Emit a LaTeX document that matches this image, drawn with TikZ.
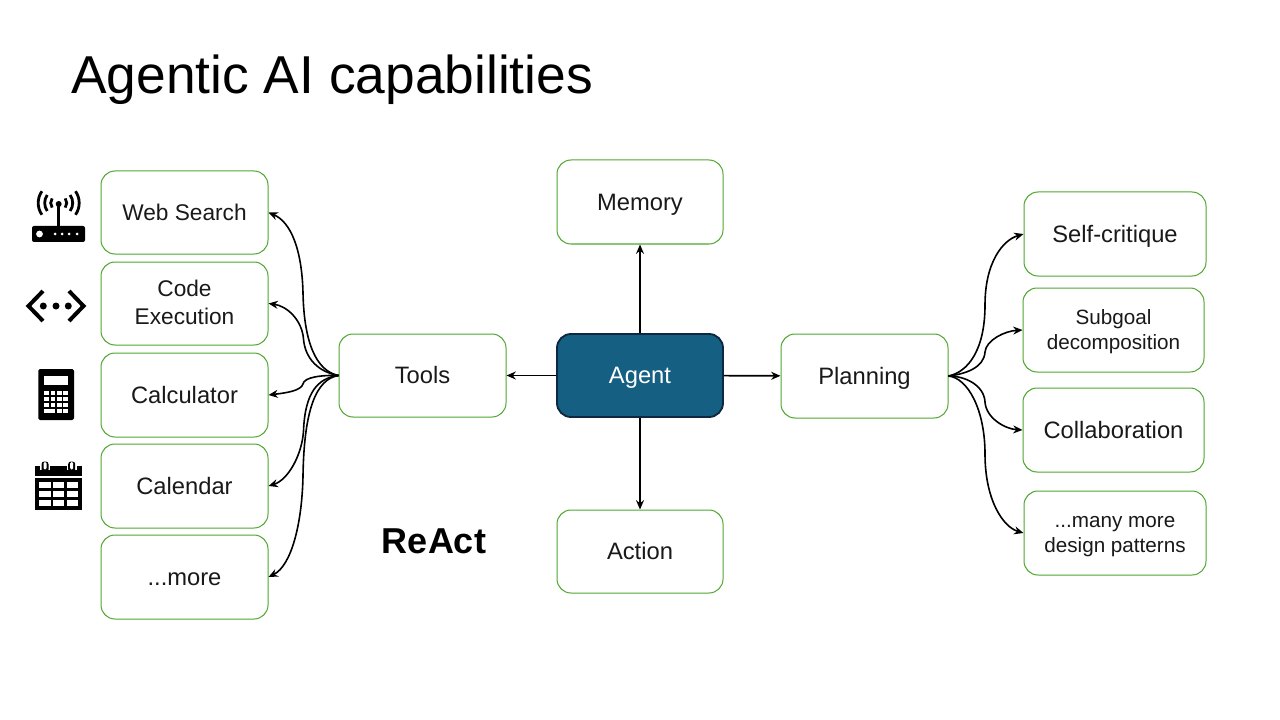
\documentclass[tikz,border=0pt]{standalone}
\usepackage{fontspec}
\setmainfont{Liberation Sans}
\usetikzlibrary{arrows.meta}
\definecolor{boxgreen}{HTML}{4EA72E}
\definecolor{agentfill}{HTML}{156082}
\definecolor{agentedge}{HTML}{0E2841}
\tikzset{
  box/.style={draw=boxgreen,line width=0.75pt,rounded corners=10.5pt,fill=white,inner sep=0pt,align=center,font=\fontsize{17.8}{22}\selectfont,text=black!90,text height=15.5pt,text depth=3pt},
  agentbox/.style={box,draw=agentedge,fill=agentfill,text=white,line width=1.4pt},
  twolines/.style={text height=35pt},
  smalltext/.style={font=\fontsize{15.5}{18.7}\selectfont,text height=31.5pt},
  narrowtext/.style={font=\fontsize{17}{21.6}\selectfont},
  conn/.style={draw=black,line width=1.2pt,-{Stealth[length=7pt,width=6pt]}},
  icon/.style={fill=black,draw=none},
  hole/.style={fill=white,draw=none}
}
\newcommand{\bx}[7][]{\node[box,#1,minimum width={(#4-#2)*0.75pt},minimum height={(#5-#3)*0.75pt}] (#6) at ({(#2+#4)/2},{(#3+#5)/2}) {#7};}
\begin{document}
\begin{tikzpicture}[x=0.75pt,y=-0.75pt]
\useasboundingbox (0,0) rectangle (1280,720);
\fill[white] (0,0) rectangle (1280,720);
\node[anchor=base west,inner sep=0pt,font=\fontsize{40}{48}\selectfont] (title) at (71,94) {Agentic AI capabilities};
\node[inner sep=0pt,font=\fontsize{27}{32}\selectfont\bfseries] (react) at (434,541) {ReAct};
% boxes
\bx[narrowtext]{101}{171}{268}{254}{web}{Web Search}
\bx[twolines,narrowtext]{101}{262}{268}{345}{code}{Code\\Execution}
\bx{101}{353}{268}{437}{calc}{Calculator}
\bx{101}{444}{268}{528}{cal}{Calendar}
\bx{101}{535}{268}{619}{more}{...more}
\bx{339}{334}{506}{417}{tools}{Tools}
\bx[agentbox]{557}{334}{723}{417}{agent}{Agent}
\bx{557}{160}{723}{244}{memory}{Memory}
\bx{557}{510}{723}{593}{action}{Action}
\bx{781}{334}{948}{418}{planning}{Planning}
\bx{1024}{192}{1206}{276}{self}{Self-critique}
\bx[smalltext]{1023}{288}{1204}{372}{sub}{Subgoal\\decomposition}
\bx{1023}{388}{1204}{472}{collab}{Collaboration}
\bx[smalltext]{1024}{491}{1206}{575}{many}{...many more\\design patterns}
% straight connectors
\draw[conn] (agent) -- (memory);
\draw[conn] (agent) -- (action);
\draw[conn] (agent) -- (tools);
\draw[conn] (agent) -- (planning);
% left fan
\draw[conn] (tools.west) .. controls (316,371) and (304,342) .. (303,293) .. controls (302,250) and (291,222) .. (web.east);
\draw[conn] (tools.west) .. controls (318,372) and (305,358) .. (303.5,339) .. controls (302,320) and (287,306) .. (code.east);
\draw[conn] (tools.west) .. controls (322,375) and (304,377) .. (303,384) .. controls (301,391) and (285,393) .. (calc.east);
\draw[conn] (tools.west) .. controls (318,378) and (305,392) .. (303.5,431) .. controls (302,455) and (288,480) .. (cal.east);
\draw[conn] (tools.west) .. controls (316,379) and (304,410) .. (303,476) .. controls (302,525) and (291,566) .. (more.east);
% right fan
\draw[conn] (planning.east) .. controls (968,372) and (985,350) .. (985,305) .. controls (985,262) and (1003,240) .. (self.west);
\draw[conn] (planning.east) .. controls (965,374) and (984,368) .. (985,352) .. controls (986,340) and (1005,331) .. (sub.west);
\draw[conn] (planning.east) .. controls (965,376) and (984,385) .. (985,402) .. controls (986,418) and (1005,429) .. (collab.west);
\draw[conn] (planning.east) .. controls (968,378) and (985,410) .. (985,454) .. controls (985,500) and (1003,527) .. (many.west);
% router icon
\fill[icon,rounded corners=1.5pt] (32,226) rectangle (85,242);
\fill[hole] (39.5,234) circle (3.4);
\foreach \x in {55,62,69,77}{\fill[hole] (\x,234) circle (1.5);}
\fill[icon] (57,204) rectangle (60.4,227);
\fill[icon] (58.7,204) circle (3);
\foreach \r in {8,14,20.5}{
  \draw[line width=2.1pt] ({58.7-\r*cos(35)},{203+\r*sin(35)}) arc[start angle=215,end angle=145,radius=\r*0.75pt];
  \draw[line width=2.1pt] ({58.7+\r*cos(35)},{203+\r*sin(35)}) arc[start angle=-35,end angle=35,radius=\r*0.75pt];
}
% code icon
\draw[line width=3pt] (43,291) -- (28.5,306) -- (43,321);
\draw[line width=3pt] (69,291) -- (83.5,306) -- (69,321);
\foreach \x in {43.3,56,68.3}{\fill[icon] (\x,306) circle (3.5);}
% calculator icon
\fill[icon,rounded corners=1.2pt] (38.3,369) rectangle (74,420);
\fill[hole] (44.3,375.7) rectangle (68,385);
\foreach \y/\yy in {390.7/395,396.7/401,402.7/407}{
  \foreach \x/\xx in {44.3/49,50.7/55.3,57/61.7,63.3/68}{
    \fill[hole] (\x,\y) rectangle (\xx,\yy);
  }
}
\fill[hole] (44.3,409.3) rectangle (55.3,413.3);
\fill[hole] (57,409.3) rectangle (61.7,413.3);
\fill[hole] (63.3,409.3) rectangle (68,413.3);
% calendar icon
\fill[icon] (34.7,466) rectangle (82.3,476);
\fill[icon] (34.7,478) rectangle (82.3,509.5);
\foreach \x in {45,71.7}{
  \fill[hole] (\x-5,465) rectangle (\x+5,470);
  \fill[icon,rounded corners=2pt] (\x-3.5,461.5) rectangle (\x+3.5,472);
  \fill[hole,rounded corners=1pt] (\x-1.5,462) rectangle (\x+1.5,469.5);
}
\foreach \y/\yy in {482.3/488,490.7/497,499.5/505.7}{
  \foreach \x/\xx in {39/50.7,52.7/64.3,66.7/78.3}{
    \fill[hole] (\x,\y) rectangle (\xx,\yy);
  }
}
\end{tikzpicture}
\end{document}
